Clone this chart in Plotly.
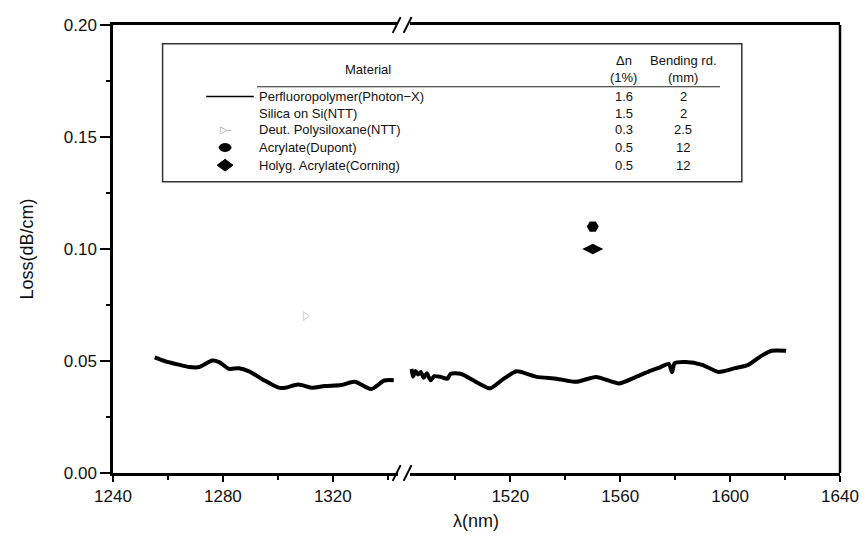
import plotly.graph_objects as go

# ---------------- data ----------------
left_wl = [1255.2, 1259.4, 1263.5, 1267.8, 1271.4, 1276.2, 1278.6, 1282.2, 1285.8, 1289.5,
           1294.3, 1300.3, 1302.7, 1307.5, 1312.3, 1317.1, 1323.1, 1328.0, 1334.0, 1338.8, 1342.2]
left_loss = [0.0516, 0.0497, 0.0485, 0.0473, 0.0473, 0.0502, 0.0495, 0.0465, 0.0468, 0.0454,
             0.0419, 0.0381, 0.0381, 0.0395, 0.0381, 0.0388, 0.0393, 0.0407, 0.0375, 0.0413, 0.0414]

right_wl = [1484.0, 1484.6, 1485.5, 1486.4, 1487.4, 1488.5, 1489.6, 1491.0, 1492.3, 1494.6,
            1497.1, 1498.3, 1501.9, 1507.9, 1512.7, 1517.5, 1522.3, 1529.6, 1536.8, 1544.0,
            1551.2, 1559.6, 1565.0, 1570.5, 1574.5, 1577.7, 1578.9, 1579.8, 1583.8, 1589.8,
            1595.8, 1601.8, 1606.6, 1611.5, 1615.1, 1620.4]
right_loss = [0.0465, 0.0430, 0.0455, 0.0440, 0.0451, 0.0425, 0.0445, 0.0414, 0.0432, 0.0429,
              0.0421, 0.0443, 0.0443, 0.0404, 0.0378, 0.0420, 0.0454, 0.0429, 0.0421, 0.0407,
              0.0429, 0.0400, 0.0425, 0.0454, 0.0472, 0.0487, 0.0450, 0.0490, 0.0495, 0.0483,
              0.0451, 0.0468, 0.0483, 0.0524, 0.0546, 0.0546]

deut_wl = [1310]
deut_loss = [0.070]
acrylate_wl = [1550]
acrylate_loss = [0.110]
holyg_wl = [1550]
holyg_loss = [0.100]

materials = ["Perfluoropolymer(Photon\u2212X)", "Silica on Si(NTT)", "Deut. Polysiloxane(NTT)",
             "Acrylate(Dupont)", "Holyg. Acrylate(Corning)"]
delta_n = ["1.6", "1.5", "0.3", "0.5", "0.5"]
bending = ["2", "2", "2.5", "12", "12"]

left_ticks = [1240, 1280, 1320]
right_ticks = [1520, 1560, 1600, 1640]
y_ticks = [0.00, 0.05, 0.10, 0.15, 0.20]

# ---------------- geometry helpers (window pixel -> paper) ----------------
OFF = 8  # page body margin
WIN_W, WIN_H = 867, 537
W, H = WIN_W - OFF, WIN_H - OFF
PL, PR, PT, PB = 113, 846, 16, 473  # plot area in window pixels
ML = PL - OFF
MT = PT - OFF
MR = W - (PR - OFF)
MB = H - (PB - OFF)
PW, PH = PR - PL, PB - PT


def px(x):
    return (x - PL) / PW


def py(y):
    return (PB - y) / PH


FONT = "Liberation Sans, Arial, sans-serif"
fig = go.Figure()

fig.add_trace(go.Scatter(x=left_wl, y=left_loss, mode="lines", xaxis="x", yaxis="y",
                         line=dict(color="black", width=4, shape="spline", smoothing=0.8),
                         showlegend=False))
fig.add_trace(go.Scatter(x=right_wl, y=right_loss, mode="lines", xaxis="x2", yaxis="y",
                         line=dict(color="black", width=4, shape="spline", smoothing=0.6),
                         showlegend=False))
fig.add_trace(go.Scatter(x=deut_wl, y=deut_loss, mode="markers", xaxis="x", yaxis="y",
                         marker=dict(symbol="triangle-right-open", size=8, color="#d0d0d0",
                                     line=dict(width=1, color="#d0d0d0")),
                         showlegend=False))
fig.add_trace(go.Scatter(x=acrylate_wl, y=acrylate_loss, mode="markers", xaxis="x2", yaxis="y",
                         marker=dict(symbol="hexagon2", size=12, color="black"),
                         showlegend=False))
fig.add_trace(go.Scatter(x=holyg_wl, y=holyg_loss, mode="markers", xaxis="x2", yaxis="y",
                         marker=dict(symbol="diamond-wide", size=15, color="black"),
                         showlegend=False))

left_end = 400
right_start = 412
scale = 2.77
x1_range = [1240, 1240 + (left_end - PL) / scale]
x2_range = [1640 - (PR - right_start) / scale, 1640]

axis_common = dict(showline=True, linecolor="black", linewidth=2.5, mirror=True,
                   ticks="outside", ticklen=6, tickwidth=2, tickcolor="black",
                   showgrid=False, zeroline=False,
                   tickfont=dict(family=FONT, size=17, color="#111"))

fig.update_layout(
    width=W, height=H,
    margin=dict(l=ML, r=MR, t=MT, b=MB, pad=0),
    paper_bgcolor="white", plot_bgcolor="white",
    xaxis=dict(domain=[0, px(left_end)], range=x1_range, tickvals=left_ticks,
               minor=dict(tickvals=[1260, 1300, 1340], ticklen=4, tickwidth=2, tickcolor="black",
                          ticks="outside"),
               anchor="y", **axis_common),
    xaxis2=dict(domain=[px(right_start), 1], range=x2_range, tickvals=right_ticks,
                minor=dict(tickvals=[1500, 1540, 1580, 1620], ticklen=4, tickwidth=2,
                           tickcolor="black", ticks="outside"),
                anchor="y", **axis_common),
    yaxis=dict(domain=[0, 1], range=[0, 0.2], tickvals=y_ticks,
               ticktext=["%.2f" % v for v in y_ticks], anchor="x",
               showline=True, linecolor="black", linewidth=2.5, mirror=False,
               ticks="outside", ticklen=10, tickwidth=1.5, tickcolor="black",
               minor=dict(dtick=0.025, ticklen=4, tickwidth=1.5, tickcolor="black", ticks="outside"),
               showgrid=False, zeroline=False,
               tickfont=dict(family=FONT, size=17, color="#111"),
               title=dict(text="Loss(dB/cm)", standoff=26,
                          font=dict(family=FONT, size=18, color="#111"))),
)

shapes = []
# right border
shapes.append(dict(type="line", xref="paper", yref="paper", x0=1, x1=1, y0=0, y1=1,
                   line=dict(color="black", width=2.5)))
# break marks (bottom and top)
for yc in (PB, PT):
    for x0 in (395, 406):
        shapes.append(dict(type="line", xref="paper", yref="paper",
                           x0=px(x0), y0=py(yc + 8), x1=px(x0 + 8), y1=py(yc - 8),
                           line=dict(color="black", width=2)))
# table box
shapes.append(dict(type="rect", xref="paper", yref="paper", x0=px(163), x1=px(747),
                   y0=py(176), y1=py(35), line=dict(color="#333", width=1.5)))
# header underline
shapes.append(dict(type="line", xref="paper", yref="paper", x0=px(258), x1=px(725),
                   y0=py(79), y1=py(79), line=dict(color="#222", width=1.2)))

row_y = [89, 106, 123, 141, 159]
sym_x = 226
# legend glyphs
shapes.append(dict(type="line", xref="paper", yref="paper", x0=px(207), x1=px(255),
                   y0=py(row_y[0]), y1=py(row_y[0]), line=dict(color="black", width=1.6)))
shapes.append(dict(type="circle", xref="paper", yref="paper", x0=px(sym_x - 6), x1=px(sym_x + 6),
                   y0=py(row_y[3] + 4), y1=py(row_y[3] - 4), fillcolor="black",
                   line=dict(color="black", width=1)))
dy = row_y[4]
shapes.append(dict(type="path", xref="paper", yref="paper",
                   path="M %f %f L %f %f L %f %f L %f %f Z" % (
                       px(sym_x - 8), py(dy), px(sym_x), py(dy - 6),
                       px(sym_x + 8), py(dy), px(sym_x), py(dy + 6)),
                   fillcolor="black", line=dict(color="black", width=1)))
fig.update_layout(shapes=shapes)

ann = []
tf = dict(family=FONT, size=13, color="#111")
ann.append(dict(text="Material", x=px(370), y=py(61), xref="paper", yref="paper",
                showarrow=False, font=tf, xanchor="center", yanchor="middle"))
ann.append(dict(text="\u0394n", x=px(628), y=py(52), xref="paper", yref="paper",
                showarrow=False, font=tf, xanchor="center", yanchor="middle"))
ann.append(dict(text="(1%)", x=px(628), y=py(70), xref="paper", yref="paper",
                showarrow=False, font=tf, xanchor="center", yanchor="middle"))
ann.append(dict(text="Bending rd.", x=px(688), y=py(52), xref="paper", yref="paper",
                showarrow=False, font=tf, xanchor="center", yanchor="middle"))
ann.append(dict(text="(mm)", x=px(688), y=py(70), xref="paper", yref="paper",
                showarrow=False, font=tf, xanchor="center", yanchor="middle"))
for i, ry in enumerate(row_y):
    ann.append(dict(text=materials[i], x=px(258), y=py(ry), xref="paper", yref="paper",
                    showarrow=False, font=tf, xanchor="left", yanchor="middle"))
    ann.append(dict(text=delta_n[i], x=px(628), y=py(ry), xref="paper", yref="paper",
                    showarrow=False, font=tf, xanchor="center", yanchor="middle"))
    ann.append(dict(text=bending[i], x=px(688), y=py(ry), xref="paper", yref="paper",
                    showarrow=False, font=tf, xanchor="center", yanchor="middle"))
ann.append(dict(text="\u25b7-", x=px(sym_x), y=py(row_y[2]), xref="paper", yref="paper",
                showarrow=False, font=dict(family=FONT, size=10, color="#999"),
                xanchor="center", yanchor="middle"))
ann.append(dict(text="\u03bb(nm)", x=px(479), y=py(522), xref="paper", yref="paper",
                showarrow=False, font=dict(family=FONT, size=18, color="#111"),
                xanchor="center", yanchor="middle"))
fig.update_layout(annotations=ann)

fig.write_html("out.html")
